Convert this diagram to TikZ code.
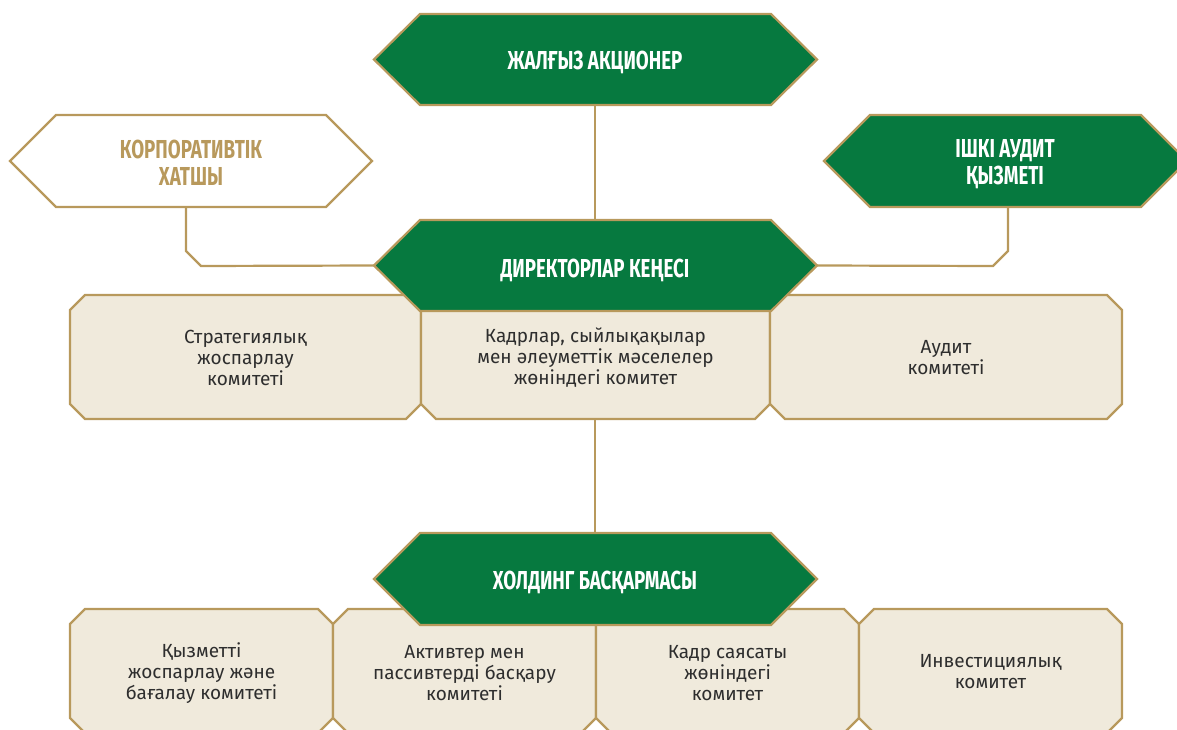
\documentclass[tikz,border=0pt]{standalone}
\usepackage{fontspec}
\setmainfont{Fira Sans}
\newfontfamily\headfont[FakeStretch=0.72]{Fira Sans}
\usepackage{tikz}

\definecolor{bggreen}{HTML}{06793F}
\definecolor{gold}{HTML}{B8995C}
\definecolor{cream}{HTML}{F0EADC}
\definecolor{ink}{HTML}{2E2E2E}

\tikzset{
  hexgreen/.style={draw=gold, line width=2.2pt, fill=bggreen},
  hexwhite/.style={draw=gold, line width=2.2pt, fill=white},
  combox/.style={draw=gold, line width=2.2pt, fill=cream},
  link/.style={draw=gold, line width=2.2pt},
  headtxt/.style={text=white, font=\headfont\bfseries\fontsize{26}{27}\selectfont, align=center},
  headgold/.style={headtxt, text=gold},
  bodytxt/.style={text=ink, font=\fontsize{19}{21}\selectfont, align=center}
}

\begin{document}
\begin{tikzpicture}[x=1pt, y=-1pt]
    \useasboundingbox (0, 0) rectangle (1177, 730);
    \clip (0, 0) rectangle (1177, 730);
    % connection points
    \coordinate (sh-s) at (595, 105);
    \coordinate (bd-n) at (595, 220);
    \coordinate (bd-w) at (374, 265.5);
    \coordinate (bd-e) at (817, 265.5);
    \coordinate (bd-s) at (595, 311);
    \coordinate (mg-n) at (595, 533);
    \coordinate (sec-s) at (186, 207);
    \coordinate (aud-s) at (1008, 207);
    % connectors
    \draw[link] (sh-s) -- (bd-n);
    \draw[link] (sec-s) -- ++(0, 44) -- ++(15, 15) -- (bd-w);
    \draw[link] (aud-s) -- ++(0, 44) -- ++(-15, 15) -- (bd-e);
    \draw[link] (bd-s) -- (mg-n);
    % board committees
    \draw[combox] (70, 310) -- (85, 295) -- (406, 295) -- (421, 310) -- (421, 404) -- (406, 419) -- (85, 419) -- (70, 404) -- cycle;
    \draw[combox] (421, 310) -- (436, 295) -- (755, 295) -- (770, 310) -- (770, 404) -- (755, 419) -- (436, 419) -- (421, 404) -- cycle;
    \draw[combox] (770, 310) -- (785, 295) -- (1107, 295) -- (1122, 310) -- (1122, 404) -- (1107, 419) -- (785, 419) -- (770, 404) -- cycle;
    % hexagons
    \draw[hexgreen] (374, 59.5) -- (420, 14) -- (771, 14) -- (817, 59.5) -- (771, 105) -- (420, 105) -- cycle;
    \draw[hexwhite] (10, 161) -- (56, 115) -- (326, 115) -- (372, 161) -- (326, 207) -- (56, 207) -- cycle;
    \draw[hexgreen] (824, 161) -- (870, 115) -- (1141, 115) -- (1187, 161) -- (1141, 207) -- (870, 207) -- cycle;
    \draw[hexgreen] (374, 265.5) -- (420, 220) -- (771, 220) -- (817, 265.5) -- (771, 311) -- (420, 311) -- cycle;
    % management committees
    \draw[combox] (70, 624) -- (85, 609) -- (318, 609) -- (333, 624) -- (333, 718) -- (318, 733) -- (85, 733) -- (70, 718) -- cycle;
    \draw[combox] (333, 624) -- (348, 609) -- (581, 609) -- (596, 624) -- (596, 718) -- (581, 733) -- (348, 733) -- (333, 718) -- cycle;
    \draw[combox] (596, 624) -- (611, 609) -- (844, 609) -- (859, 624) -- (859, 718) -- (844, 733) -- (611, 733) -- (596, 718) -- cycle;
    \draw[combox] (859, 624) -- (874, 609) -- (1107, 609) -- (1122, 624) -- (1122, 718) -- (1107, 733) -- (874, 733) -- (859, 718) -- cycle;
    \draw[hexgreen] (374, 579) -- (420, 533) -- (771, 533) -- (817, 579) -- (771, 625) -- (420, 625) -- cycle;
    % labels
    \node[headtxt, text height=18pt, text depth=0pt] (shareholder) at (595, 61) {ЖАЛҒЫЗ АКЦИОНЕР};
    \node[headgold] (secretary) at (191, 162.5) {КОРПОРАТИВТІК\\ХАТШЫ};
    \node[headtxt] (audit) at (1005, 164) {ІШКІ АУДИТ\\ҚЫЗМЕТІ};
    \node[headtxt, text height=18pt, text depth=0pt] (board) at (595, 268) {ДИРЕКТОРЛАР КЕҢЕСІ};
    \node[headtxt, text height=18pt, text depth=0pt] (management) at (595, 580) {ХОЛДИНГ БАСҚАРМАСЫ};
    \node[bodytxt] (strategy) at (245.5, 358) {Стратегиялық\\жоспарлау\\комитеті};
    \node[bodytxt] (personnel) at (595.5, 358) {Кадрлар, сыйлықақылар\\мен әлеуметтік мәселелер\\жөніндегі комитет};
    \node[bodytxt] (auditcom) at (946, 358) {Аудит\\комитеті};
    \node[bodytxt] (planning) at (201.5, 673) {Қызметті\\жоспарлау және\\бағалау комитеті};
    \node[bodytxt] (assets) at (464.5, 673) {Активтер мен\\пассивтерді басқару\\комитеті};
    \node[bodytxt] (hrpolicy) at (727.5, 673) {Кадр саясаты\\жөніндегі\\комитет};
    \node[bodytxt] (invest) at (990.5, 672) {Инвестициялық\\комитет};
  \end{tikzpicture}
\end{document}
